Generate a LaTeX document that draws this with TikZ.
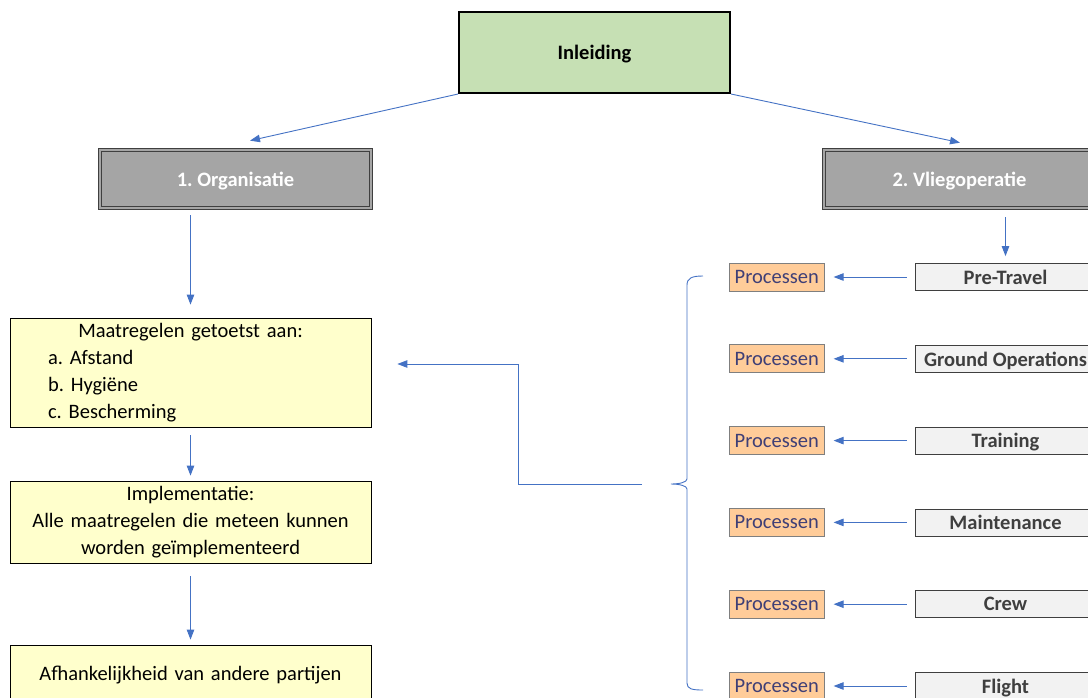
\documentclass[tikz,border=0pt]{standalone}
\usepackage{fontspec}
\setmainfont{Carlito}
\usetikzlibrary{arrows.meta, positioning, calc}

\definecolor{headgreen}{HTML}{C6E0B4}
\definecolor{checkgray}{HTML}{A5A5A5}
\definecolor{checkline}{HTML}{3F3F3F}
\definecolor{notefill}{HTML}{FFFFCC}
\definecolor{procfill}{HTML}{FFCC99}
\definecolor{proctext}{HTML}{3F3F76}
\definecolor{procline}{HTML}{7F7F7F}
\definecolor{outfill}{HTML}{F2F2F2}
\definecolor{linkblue}{HTML}{4472C4}

\newcommand{\basefont}{\fontsize{20.5}{27}\selectfont\frenchspacing}

\begin{document}
\begin{tikzpicture}[x=1pt, y=-1pt, >={Triangle[length=10pt,width=7.5pt]}]

        % Define block styles
        \tikzstyle{head} = [rectangle, draw=black, line width=2pt, fill=headgreen, minimum width=271pt, minimum height=81pt, text depth=0pt, font=\basefont\bfseries]
        \tikzstyle{check} = [rectangle, draw=checkline, line width=0.7pt, double=checkgray, double distance=2pt, fill=checkgray, text=white, minimum width=271pt, minimum height=58pt, text depth=0pt, font=\basefont\bfseries]
        \tikzstyle{note} = [rectangle, draw=black, line width=0.8pt, fill=notefill, text width=361pt, inner xsep=0pt, font=\basefont]
        \tikzstyle{proc} = [rectangle, draw=procline, line width=0.8pt, fill=procfill, text=proctext, minimum width=95pt, minimum height=28pt, inner sep=0pt, text depth=0pt, font=\basefont]
        \tikzstyle{outbox} = [rectangle, draw=checkline, line width=0.8pt, fill=outfill, text=checkline, minimum width=181pt, minimum height=27pt, inner sep=0pt, text depth=0pt, font=\basefont\bfseries]
        \tikzstyle{conn} = [draw=linkblue, line width=0.9pt, ->]
        \tikzstyle{bracket} = [draw=linkblue, line width=0.9pt]

        \useasboundingbox (0,0) rectangle (1088,697);
        \clip (0,0) rectangle (1088,697);

        % Components
        \node (inl) [head] at (594.5,52.5) {Inleiding};
        \node (org) [check] at (235.5,179) {1. Organisatie};
        \node (vlieg) [check] at (959.5,179) {2. Vliegoperatie};

        \node (maat) [note, align=left, minimum height=109pt] at (190.5,372.5)
          {\makebox[361pt]{Maatregelen getoetst aan:}\\
           \hspace*{38pt}a. Afstand\\
           \hspace*{38pt}b. Hygiëne\\
           \hspace*{38pt}c. Bescherming};
        \node (impl) [note, align=center, minimum height=82pt] at (190.5,522)
          {Implementatie:\\ Alle maatregelen die meteen kunnen\\ worden geïmplementeerd};
        \node (afh) [note, align=center, minimum height=56pt, text depth=0pt] at (190.5,673)
          {Afhankelijkheid van andere partijen};

        \foreach \name/\lbl [count=\i from 0] in {pre/Pre-Travel, ground/Ground Operations, train/Training, maint/Maintenance, crew/Crew, flight/Flight} {
          \node (\name) [outbox] at (1005.5,277+81.8*\i) {\lbl};
          \node (p\name) [proc, left=90pt of \name] {Processen};
          \draw [conn, shorten <=8pt, shorten >=9pt] (\name) -- (p\name);
        }

        % Brace
        \coordinate (bracetip) at (671,484);
        \draw [bracket] (703,276) .. controls (692,276) and (687,278) .. (687,285)
          -- (687,479) .. controls (687,482) and (680,484) .. (bracetip)
          .. controls (680,484) and (687,486) .. (687,489)
          -- (687,683) .. controls (687,689) and (692,690) .. (703,690);

        % Arrows
        \draw [conn] (inl.south west) -- ([shift={(14.5,-9)}]org.north);
        \draw [conn] (inl.south east) -- ([shift={(0.5,-7)}]vlieg.north);
        \draw [conn, shorten <=7pt, shorten >=13pt] (maat.north |- org.south) -- (maat.north);
        \draw [conn, shorten <=8pt, shorten >=5pt] (maat) -- (impl);
        \draw [conn, shorten <=13pt, shorten >=5pt] (impl) -- (afh);
        \draw [conn, shorten <=9pt, shorten >=7pt] (pre.north |- vlieg.south) -- (pre.north);
        \draw [conn] ([xshift=-29pt]bracetip) -- ++(-124,0) |- ([shift={(26,-8.5)}]maat.east);

      \end{tikzpicture}
\end{document}
